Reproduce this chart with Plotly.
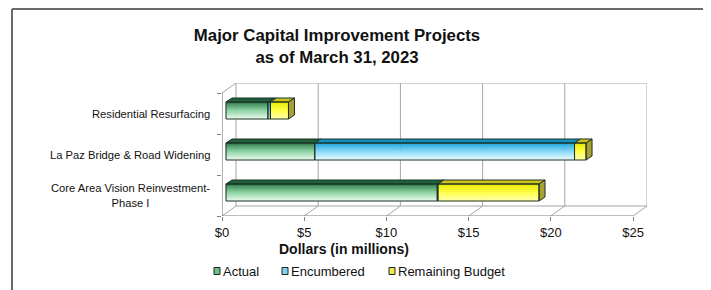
import plotly.graph_objects as go

# ---------------- data ----------------
categories = ["Core Area Vision Reinvestment-<br>Phase I",
              "La Paz Bridge & Road Widening",
              "Residential Resurfacing"]          # bottom -> top
actual = [12.85, 5.4, 2.55]
encumbered = [0.04, 15.8, 0.15]
remaining = [6.15, 0.7, 1.1]
series_names = ["Actual", "Encumbered", "Remaining Budget"]
tick_values = [0, 5, 10, 15, 20, 25]
tick_labels = ["$0", "$5", "$10", "$15", "$20", "$25"]
title_text = "Major Capital Improvement Projects<br>as of March 31, 2023"
axis_title = "Dollars (in millions)"

# ---------------- styling / geometry ----------------
OFF = 8                            # page body margin of the html page
SW, SH = 711, 290                  # screen size
W, H = SW - OFF, SH - OFF          # figure size
# plot area in screen pixels
PX0, PX1, PY0, PY1 = 222, 647, 83, 216
L, T = PX0 - OFF, PY0 - OFF
R, B = W - (PX1 - OFF), H - (PY1 - OFF)
PW, PH = PX1 - PX0, PY1 - PY0
XMAX = 25
PX_X = 16.45                      # px per dollar
DX = 14 / PX_X                    # 3D depth (x, dollars)
DY = 10 / 41                      # 3D depth (y, category units)
FO_X, FO_Y = 4 / PX_X, 3 / 41     # bar front offset
BD_X, BD_Y = 6 / PX_X, 4 / 41     # bar depth
HT = 8.5 / 41                     # half bar thickness
FONT = "Liberation Sans, Arial, sans-serif"

grad = [["#2a7448", "#86cf9c", "#eafaee"],
        ["#14a2da", "#7fd7f5", "#ecfcff"],
        ["#e8e800", "#ffff3a", "#ffffb0"]]
top_col = ["#21603d", "#138ec0", "#d0c41c"]
side_col = ["#2a5a3a", "#1380a8", "#a9a032"]
legend_col = ["#6cbf88", "#7fd6f2", "#f0e64a"]
edge = "#1c3226"
N_STRIPS = 16


def sx(px):          # screen px -> paper x
    return (px - PX0) / PW


def sy(py):          # screen px -> paper y
    return (PY1 - py) / PH


def lerp(c1, c2, t):
    a = [int(c1[i:i + 2], 16) for i in (1, 3, 5)]
    b = [int(c2[i:i + 2], 16) for i in (1, 3, 5)]
    return "#%02x%02x%02x" % tuple(round(a[k] + (b[k] - a[k]) * t) for k in range(3))


def grad_color(stops, t):
    if t < 0.5:
        return lerp(stops[0], stops[1], t / 0.5)
    return lerp(stops[1], stops[2], (t - 0.5) / 0.5)


fig = go.Figure()

series = [actual, encumbered, remaining]
segs = []
for s in range(3):
    row = []
    for i in range(len(categories)):
        x0 = sum(series[j][i] for j in range(s))
        row.append((x0, x0 + series[s][i]))
    segs.append(row)

# front faces with vertical gradient
for s in range(3):
    for k in range(N_STRIPS):
        xs, ys = [], []
        for i in range(len(categories)):
            x0, x1 = segs[s][i]
            if x1 - x0 <= 0:
                continue
            yt = i + FO_Y + HT
            h = 2 * HT / N_STRIPS
            ya, yb = yt - k * h, yt - (k + 1) * h
            xs += [x0 + FO_X, x1 + FO_X, x1 + FO_X, x0 + FO_X, x0 + FO_X, None]
            ys += [ya, ya, yb, yb, ya, None]
        c = grad_color(grad[s], (k + 0.5) / N_STRIPS)
        fig.add_trace(go.Scatter(x=xs, y=ys, mode="lines", fill="toself", fillcolor=c,
                                 line=dict(color=c, width=0.6), hoverinfo="skip",
                                 showlegend=False))

# top faces
for s in range(3):
    xs, ys = [], []
    for i in range(len(categories)):
        x0, x1 = segs[s][i]
        if x1 - x0 <= 0:
            continue
        yt = i + FO_Y + HT
        xs += [x0 + FO_X, x1 + FO_X, x1 + FO_X + BD_X, x0 + FO_X + BD_X, x0 + FO_X, None]
        ys += [yt, yt, yt + BD_Y, yt + BD_Y, yt, None]
    fig.add_trace(go.Scatter(x=xs, y=ys, mode="lines", fill="toself", fillcolor=top_col[s],
                             line=dict(color=edge, width=1), hoverinfo="skip", showlegend=False))

# side face of the last segment in each stack
for i in range(len(categories)):
    last = max(s for s in range(3) if series[s][i] > 0)
    x1 = segs[last][i][1]
    yt = i + FO_Y + HT
    yb = i + FO_Y - HT
    fig.add_trace(go.Scatter(
        x=[x1 + FO_X, x1 + FO_X + BD_X, x1 + FO_X + BD_X, x1 + FO_X, x1 + FO_X],
        y=[yb, yb + BD_Y, yt + BD_Y, yt, yb],
        mode="lines", fill="toself", fillcolor=side_col[last],
        line=dict(color=edge, width=1), hoverinfo="skip", showlegend=False))

# front outlines
for s in range(3):
    xs, ys = [], []
    for i in range(len(categories)):
        x0, x1 = segs[s][i]
        if x1 - x0 <= 0:
            continue
        yt = i + FO_Y + HT
        yb = i + FO_Y - HT
        xs += [x0 + FO_X, x1 + FO_X, x1 + FO_X, x0 + FO_X, x0 + FO_X, None]
        ys += [yt, yt, yb, yb, yt, None]
    fig.add_trace(go.Scatter(x=xs, y=ys, mode="lines", line=dict(color=edge, width=1),
                             hoverinfo="skip", showlegend=False))

# ---------------- 3D walls / grid ----------------
grid = "#a6a6a6"
axis_c = "#7f7f7f"
shapes = []
ybot, ytop = -0.5, len(categories) - 0.5
for v in tick_values:
    shapes.append(dict(type="line", xref="x", yref="y", x0=v, y0=ybot, x1=v + DX, y1=ybot + DY,
                       line=dict(color=grid, width=1), layer="below"))
    shapes.append(dict(type="line", xref="x", yref="y", x0=v + DX, y0=ybot + DY, x1=v + DX,
                       y1=ytop + DY, line=dict(color=grid, width=1), layer="below"))
shapes += [
    dict(type="line", xref="x", yref="y", x0=DX, y0=ybot + DY, x1=XMAX + DX, y1=ybot + DY,
         line=dict(color=grid, width=1), layer="below"),
    dict(type="line", xref="x", yref="y", x0=DX, y0=ytop + DY, x1=XMAX + DX, y1=ytop + DY,
         line=dict(color=grid, width=1), layer="below"),
    dict(type="line", xref="x", yref="y", x0=0, y0=ytop, x1=DX, y1=ytop + DY,
         line=dict(color=grid, width=1), layer="below"),
    dict(type="line", xref="x", yref="y", x0=0, y0=ybot, x1=XMAX, y1=ybot,
         line=dict(color=axis_c, width=1.2)),
    dict(type="line", xref="x", yref="y", x0=0, y0=ybot, x1=0, y1=ytop,
         line=dict(color=axis_c, width=1.2)),
]
# outer frame
shapes += [
    dict(type="line", xref="paper", yref="paper", x0=sx(12), y0=sy(9), x1=sx(705), y1=sy(9),
         line=dict(color="#6a6a6a", width=2)),
    dict(type="line", xref="paper", yref="paper", x0=sx(12), y0=sy(9), x1=sx(12), y1=sy(300),
         line=dict(color="#6a6a6a", width=2)),
    dict(type="line", xref="paper", yref="paper", x0=sx(705), y0=sy(9), x1=sx(705), y1=sy(300),
         line=dict(color="#111111", width=3)),
]

annotations = []
for i, c in enumerate(categories):
    annotations.append(dict(text=c, xref="paper", yref="y", x=sx(212), y=i,
                            xanchor="right", yanchor="middle", align="center", showarrow=False,
                            font=dict(family=FONT, size=11.2, color="#111111")))
annotations.append(dict(text="<b>" + axis_title + "</b>", xref="paper", yref="paper",
                        x=sx(344), y=sy(248.5), xanchor="center", yanchor="middle",
                        showarrow=False, font=dict(family=FONT, size=14, color="#111111")))

# legend (drawn compactly like the original: small square + label)
legend_x = [214, 282, 389]
LEG_Y = 271
for s in range(3):
    x0 = legend_x[s]
    shapes.append(dict(type="rect", xref="paper", yref="paper", x0=sx(x0), x1=sx(x0 + 6),
                       y0=sy(LEG_Y + 3.5), y1=sy(LEG_Y - 3.5), fillcolor=legend_col[s],
                       line=dict(color="#222222", width=1)))
    annotations.append(dict(text=series_names[s], xref="paper", yref="paper", x=sx(x0 + 7),
                            y=sy(LEG_Y), xanchor="left", yanchor="middle", showarrow=False,
                            font=dict(family=FONT, size=13, color="#111111")))

fig.update_layout(
    width=W, height=H,
    margin=dict(l=L, r=R, t=T, b=B),
    paper_bgcolor="white", plot_bgcolor="white",
    title=dict(text="<b>" + title_text + "</b>", xref="paper", x=sx(337),
               xanchor="center", yref="container", y=1 - 33 / H, yanchor="top",
               font=dict(family=FONT, size=16.8, color="#111111")),
    xaxis=dict(range=[0, XMAX + DX], tickvals=tick_values, ticktext=tick_labels,
               showgrid=False, zeroline=False, showline=False, ticks="outside", ticklen=4,
               tickcolor=axis_c, tickfont=dict(family=FONT, size=13, color="#111111"),
               ticklabelstandoff=0, fixedrange=True),
    yaxis=dict(range=[ybot, ytop + DY], tickvals=[ybot + k for k in range(len(categories) + 1)],
               showticklabels=False, showgrid=False, zeroline=False, showline=False,
               ticks="outside", ticklen=4, tickcolor=axis_c, fixedrange=True),
    shapes=shapes,
    annotations=annotations,
    showlegend=False,
)

fig.write_html("out.html")
